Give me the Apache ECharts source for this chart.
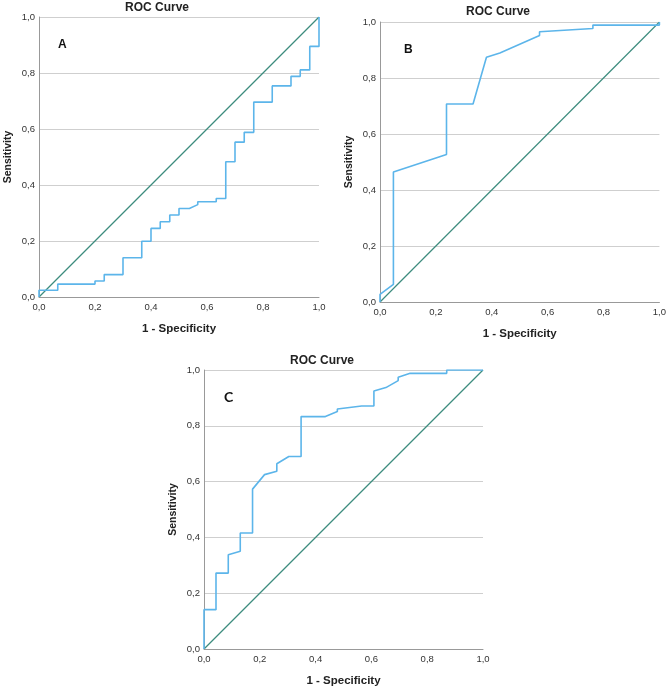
<!DOCTYPE html>
<html>
<head>
<meta charset="utf-8">
<script src="https://cdn.jsdelivr.net/npm/echarts@6/dist/echarts.min.js"></script>
<style>
html,body{margin:0;padding:0;background:#fff;}
#chart{width:669px;height:690px;}
</style>
</head>
<body>
<div id="chart"></div>
<script>
// Panel A ROC curve points (1 - specificity, sensitivity)
const aFpr = [0, 0, 0.067, 0.067, 0.2, 0.2, 0.233, 0.233, 0.3, 0.3, 0.367, 0.367, 0.4, 0.4, 0.433, 0.433, 0.467, 0.467, 0.5, 0.5, 0.537, 0.567, 0.567, 0.633, 0.633, 0.667, 0.667, 0.7, 0.7, 0.733, 0.733, 0.767, 0.767, 0.833, 0.833, 0.9, 0.9, 0.933, 0.933, 0.967, 0.967, 1, 1];
const aTpr = [0, 0.024, 0.024, 0.046, 0.046, 0.057, 0.057, 0.08, 0.08, 0.14, 0.14, 0.199, 0.199, 0.245, 0.245, 0.269, 0.269, 0.293, 0.293, 0.316, 0.316, 0.33, 0.34, 0.34, 0.352, 0.352, 0.483, 0.483, 0.553, 0.553, 0.588, 0.588, 0.696, 0.696, 0.754, 0.754, 0.788, 0.788, 0.811, 0.811, 0.895, 0.895, 1];
// Panel B
const bFpr = [0, 0, 0.048, 0.048, 0.238, 0.238, 0.333, 0.381, 0.429, 0.571, 0.571, 0.762, 0.762, 1, 1];
const bTpr = [0, 0.027, 0.063, 0.464, 0.527, 0.707, 0.707, 0.874, 0.889, 0.952, 0.965, 0.977, 0.989, 0.989, 1];
// Panel C
const cFpr = [0, 0, 0.043, 0.043, 0.087, 0.087, 0.13, 0.13, 0.174, 0.174, 0.217, 0.261, 0.261, 0.304, 0.348, 0.348, 0.435, 0.478, 0.478, 0.565, 0.609, 0.609, 0.652, 0.696, 0.696, 0.739, 0.87, 0.87, 1];
const cTpr = [0, 0.141, 0.141, 0.272, 0.272, 0.338, 0.35, 0.416, 0.416, 0.573, 0.625, 0.637, 0.664, 0.69, 0.69, 0.833, 0.833, 0.851, 0.86, 0.871, 0.871, 0.925, 0.937, 0.962, 0.974, 0.988, 0.988, 1, 1];
// Reference diagonal
const refX = [0, 1];
const refY = [0, 1];
const panelLetters = ['A', 'B', 'C'];
const titleText = 'ROC Curve';
const xName = '1 - Specificity';
const yName = 'Sensitivity';

const zip = (xs, ys) => xs.map((x, i) => [x, ys[i]]);
const fmt = v => v.toFixed(1).replace('.', ',');
const FONT = 'Liberation Sans';

const grids = [
  {left: 39, top: 17, width: 280, height: 280},
  {left: 380, top: 22, width: 280, height: 280},
  {left: 204, top: 370, width: 279, height: 279}
];

function xAxis(i) {
  return {
    gridIndex: i, type: 'value', min: 0, max: 1, interval: 0.2,
    name: xName, nameLocation: 'middle', nameGap: 26,
    nameTextStyle: {fontFamily: FONT, fontSize: 11.5, fontWeight: 'bold', color: '#222'},
    axisLine: {show: true, lineStyle: {color: '#999', width: 1}},
    axisTick: {show: false},
    splitLine: {show: false},
    axisLabel: {formatter: fmt, fontFamily: FONT, fontSize: 9.5, color: '#333', margin: 5}
  };
}
function yAxis(i) {
  return {
    gridIndex: i, type: 'value', min: 0, max: 1, interval: 0.2,
    name: yName, nameLocation: 'middle', nameGap: 25, nameRotate: 90,
    nameTextStyle: {fontFamily: FONT, fontSize: 10.5, fontWeight: 'bold', color: '#222'},
    axisLine: {show: true, lineStyle: {color: '#999', width: 1}},
    axisTick: {show: false},
    splitLine: {show: true, lineStyle: {color: '#cfcfcf', width: 1}},
    axisLabel: {formatter: fmt, fontFamily: FONT, fontSize: 9.5, color: '#333', margin: 4}
  };
}

const curves = [zip(aFpr, aTpr), zip(bFpr, bTpr), zip(cFpr, cTpr)];
const series = [];
curves.forEach((d, i) => {
  series.push({
    type: 'line', xAxisIndex: i, yAxisIndex: i, data: zip(refX, refY),
    symbol: 'none', lineStyle: {color: '#3d8c7e', width: 1.2}, z: 2, silent: true
  });
  series.push({
    type: 'line', xAxisIndex: i, yAxisIndex: i, data: d,
    symbol: 'none', lineStyle: {color: '#5cb5ea', width: 1.6}, z: 3, silent: true
  });
});

const titleStyle = {fontFamily: FONT, fontSize: 12, fontWeight: 'bold', color: '#222'};
const letterStyle = {fontFamily: FONT, fontSize: 12, fontWeight: 'bold', color: '#111'};
const letterStyleC = {fontFamily: 'Lato', fontSize: 14, fontWeight: 'bold', color: '#111'};

const option = {
  backgroundColor: '#fff',
  animation: false,
  title: [
    {text: titleText, left: 157, top: 2, padding: 0, textAlign: 'center', textStyle: titleStyle},
    {text: titleText, left: 498, top: 6, padding: 0, textAlign: 'center', textStyle: titleStyle},
    {text: titleText, left: 322, top: 355, padding: 0, textAlign: 'center', textStyle: titleStyle},
    {text: panelLetters[0], left: 58, top: 39, padding: 0, textStyle: letterStyle},
    {text: panelLetters[1], left: 404, top: 44, padding: 0, textStyle: letterStyle},
    {text: panelLetters[2], left: 224, top: 390, padding: 0, textStyle: letterStyleC}
  ],
  grid: grids,
  xAxis: [xAxis(0), xAxis(1), xAxis(2)],
  yAxis: [yAxis(0), yAxis(1), yAxis(2)],
  series: series
};

const chart = echarts.init(document.getElementById('chart'), null, {renderer: 'canvas'});
chart.setOption(option);
</script>
</body>
</html>
